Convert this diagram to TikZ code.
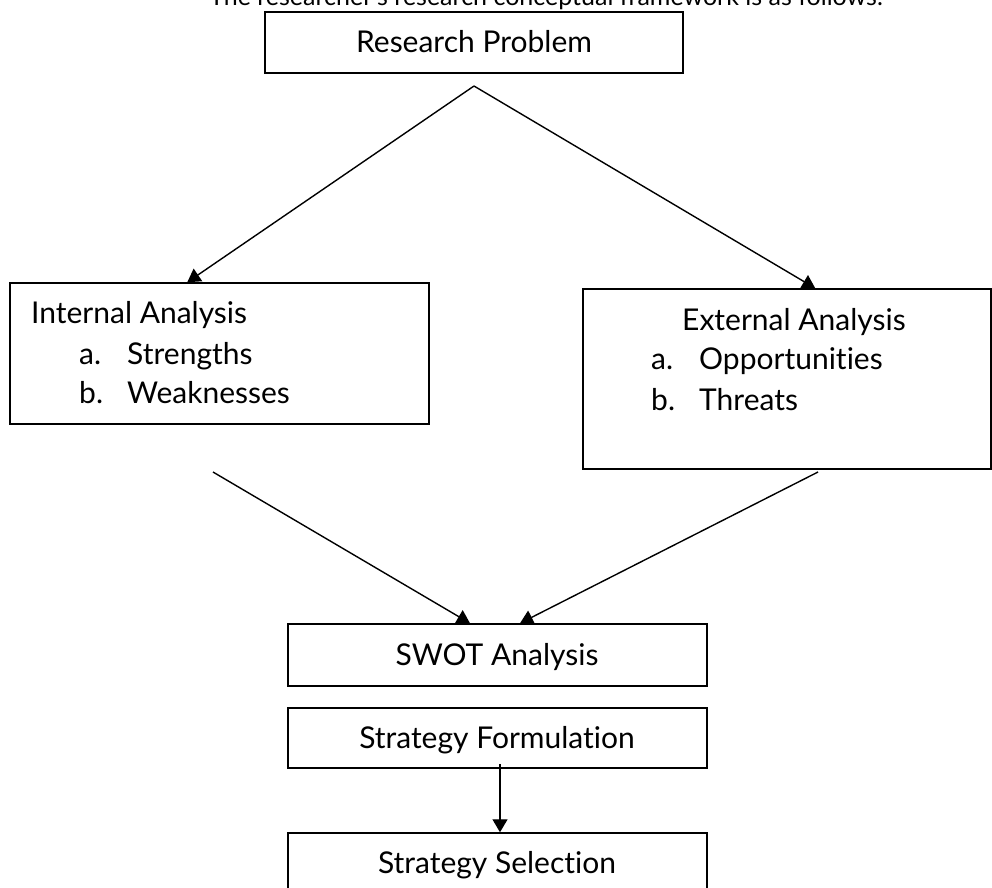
\documentclass[tikz,border=0pt]{standalone}
\usepackage{fontspec}
\setmainfont{Lato}[Ligatures={NoCommon,NoRare}]
\usetikzlibrary{arrows.meta,calc}
\begin{document}
\begin{tikzpicture}[x=1pt,y=-1pt,
  box/.style={draw=black,line width=1.5pt,rectangle,inner sep=0pt},
  txt/.style={inner sep=0pt,anchor=base west,font=\fontsize{30}{36}\selectfont},
  ctxt/.style={inner sep=0pt,anchor=base,font=\fontsize{30}{36}\selectfont},
  conn/.style={line width=1.4pt,-{Triangle[length=13pt,width=15pt]}}]
\useasboundingbox (0,0) rectangle (992,887);
% caption (cut by the top edge, as in the reference)
\node[ctxt,font=\fontsize{25}{30}\selectfont] (cap) at (546,5) {The researcher's research conceptual framework is as follows.};
% boxes
\node[box,minimum width=418pt,minimum height=61pt] (rp) at (474,42.5) {};
\node[ctxt] (rpt) at (474,52) {Research Problem};
\node[box,minimum width=419pt,minimum height=141pt] (int) at (219.5,353.5) {};
\node[box,minimum width=408pt,minimum height=180pt] (ext) at (787,379) {};
\node[box,minimum width=419pt,minimum height=62pt] (swot) at (497.5,655) {};
\node[box,minimum width=419pt,minimum height=60pt] (sf) at (497.5,738) {};
\node[box,minimum width=419pt,minimum height=62pt] (ss) at (497.5,864) {};
% texts
\node[txt] (i0) at (31,323) {Internal Analysis};
\node[txt] (i1) at (79,364) {a.};
\node[txt] (i1b) at (127,364) {Strengths};
\node[txt] (i2) at (79,403) {b.};
\node[txt] (i2b) at (127,403) {Weaknesses};
\node[txt] (e0) at (682,330) {External Analysis};
\node[txt] (e1) at (651,369) {a.};
\node[txt] (e1b) at (699,369) {Opportunities};
\node[txt] (e2) at (651,410) {b.};
\node[txt] (e2b) at (699,410) {Threats};
\node[ctxt] (swt) at (497,665) {SWOT Analysis};
\node[ctxt] (sft) at (497,748) {Strategy Formulation};
\node[ctxt] (sst) at (497,873) {Strategy Selection};
% connectors
\coordinate (apex) at (474,86);
\coordinate (li) at (213,472);
\coordinate (re) at (818,472);
\draw[conn] (apex) -- ([xshift=178pt]int.north west);
\draw[conn] (apex) -- ([xshift=233pt]ext.north west);
\draw[conn] (li) -- ([xshift=-27.5pt]swot.north);
\draw[conn] (re) -- ([xshift=22.5pt]swot.north);
\draw[conn] ([xshift=2.5pt,yshift=5pt]sf.south) -- ([xshift=2.5pt]ss.north);
\end{tikzpicture}
\end{document}
